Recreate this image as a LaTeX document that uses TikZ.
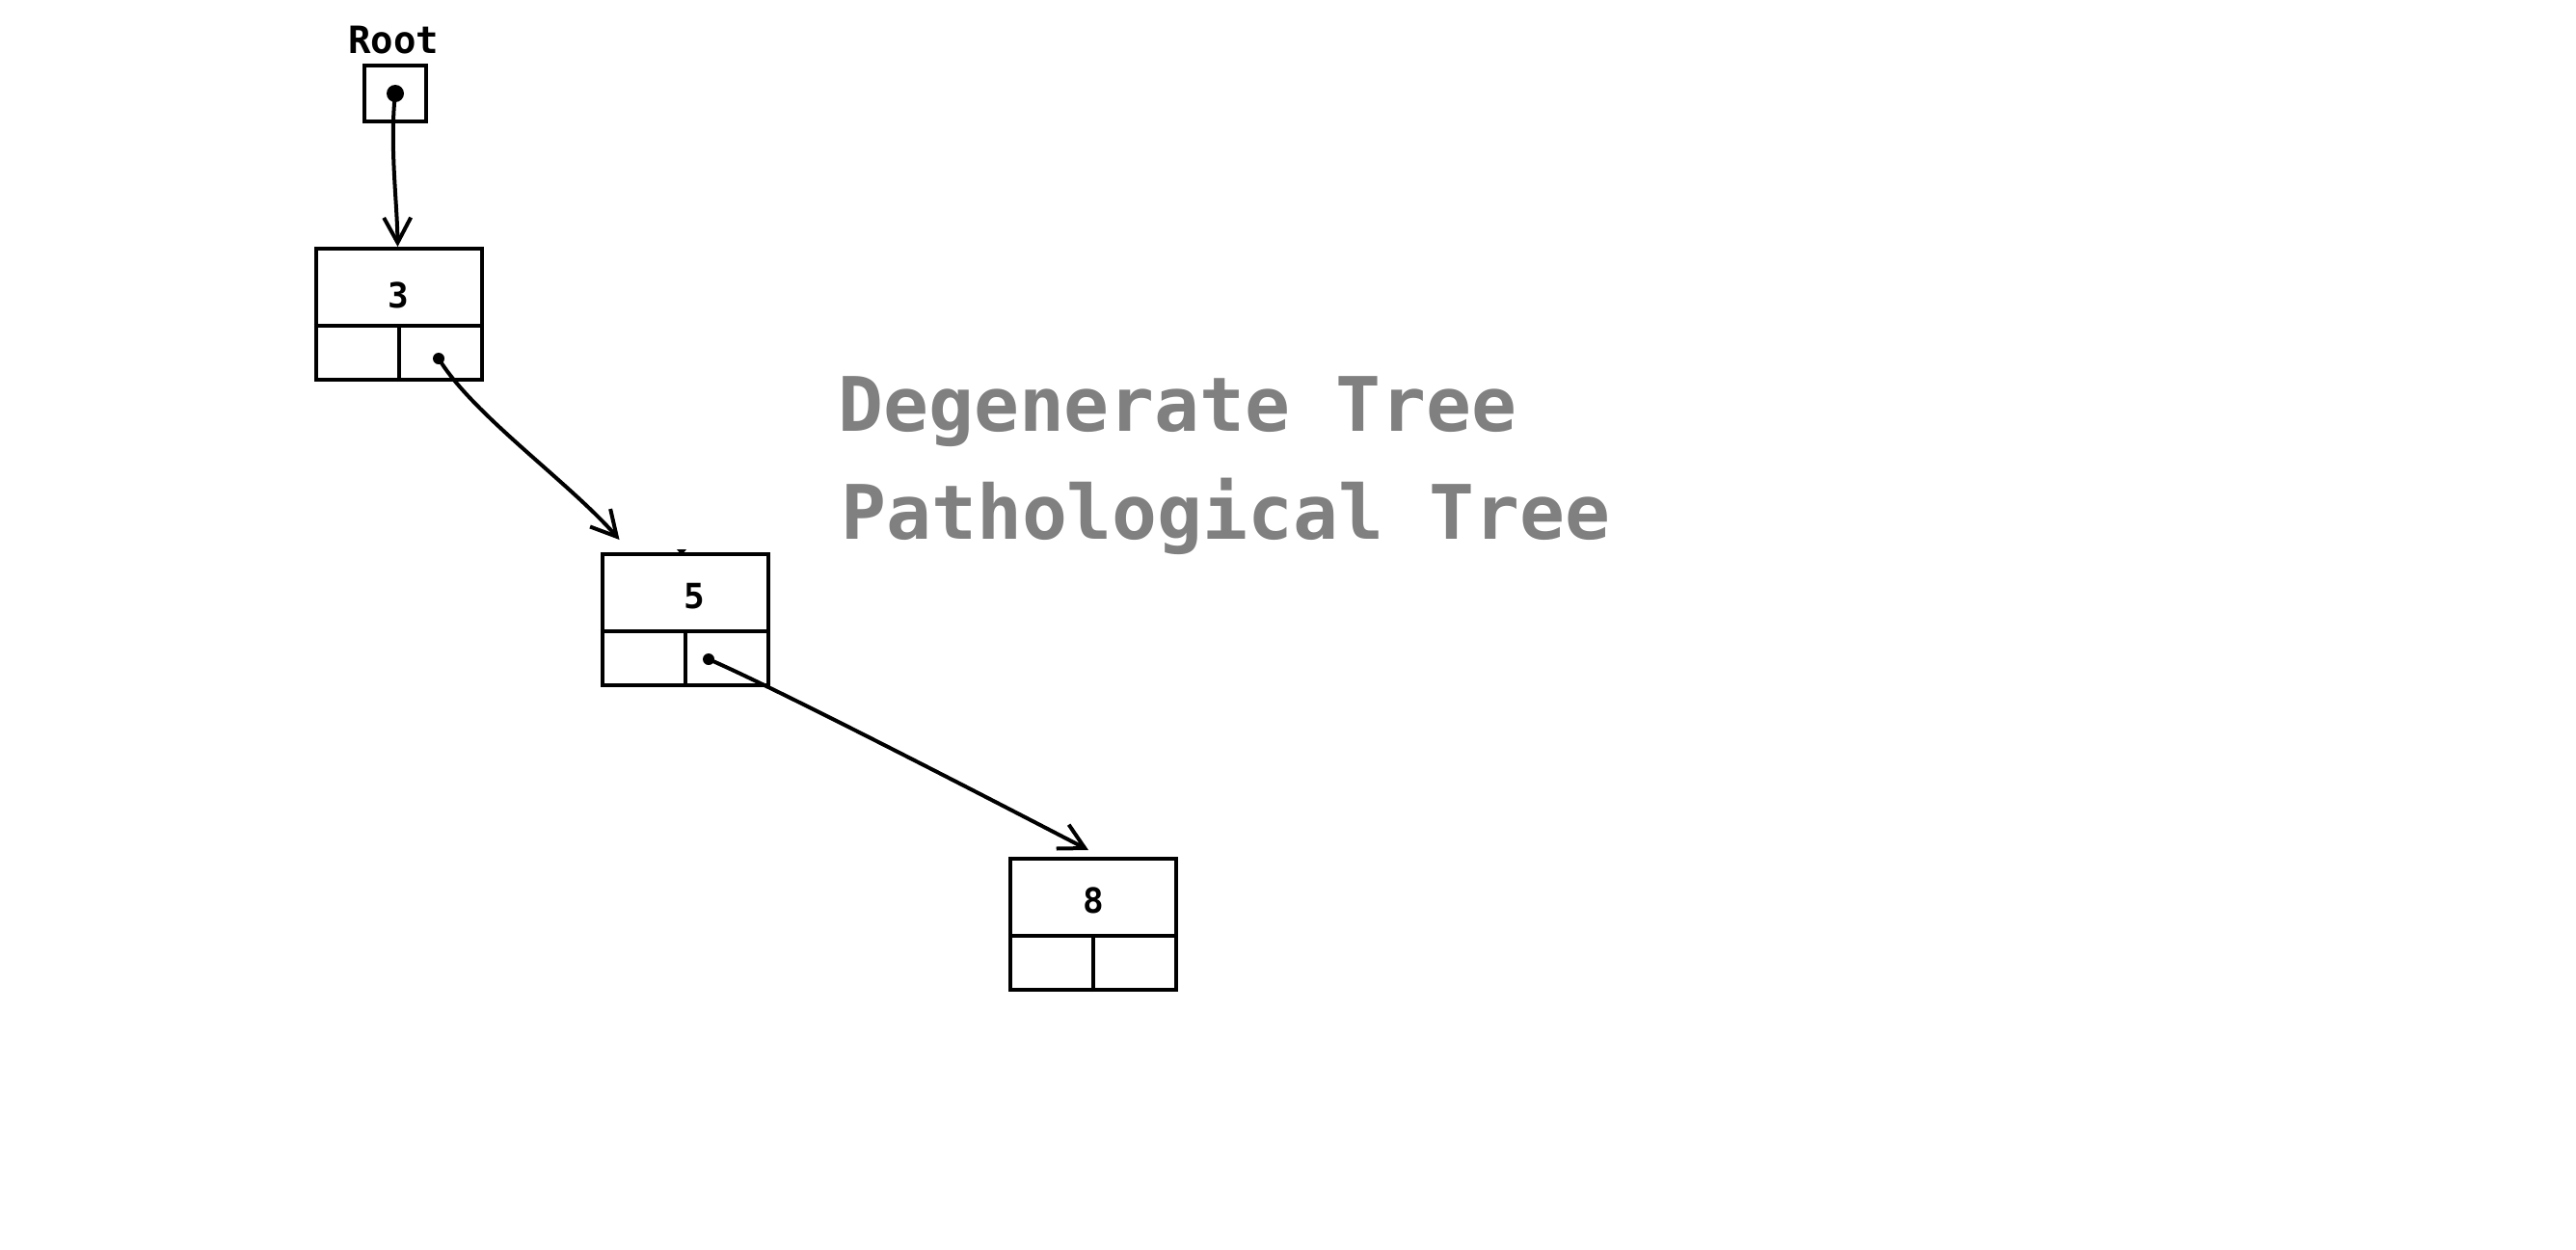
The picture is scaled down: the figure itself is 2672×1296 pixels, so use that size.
\documentclass[tikz,border=0pt]{standalone}
\usepackage{fontspec}
\usetikzlibrary{arrows.meta}
\newfontfamily\monob{DejaVu Sans Mono}[BoldFont={DejaVu Sans Mono Bold}]
\definecolor{txtgray}{RGB}{128,128,128}
\begin{document}
\begin{tikzpicture}[x=1pt,y=-1pt,
  treenode/.style={draw,line width=4pt,minimum width=172pt,minimum height=136pt,inner sep=0pt},
  rootbox/.style={draw,line width=4pt,minimum width=64pt,minimum height=58pt,inner sep=0pt},
  lbl/.style={font=\monob\bfseries\fontsize{36}{42}\selectfont,inner sep=0pt},
  conn/.style={line width=4pt,line cap=round,-{Straight Barb[length=26pt,width=28pt,line width=4pt]}},
  bigtxt/.style={font=\monob\bfseries\fontsize{78}{84}\selectfont,text=txtgray,inner sep=0pt,anchor=base west}]
\useasboundingbox (0,0) rectangle (2672,1296);
% root
\node[lbl,font=\monob\bfseries\fontsize{39}{44}\selectfont] (rootlbl) at (408,42) {Root};
\node[rootbox] (root) at (410,97) {};
\fill (root.center) circle (9);
% tree nodes
\node[treenode] (n3) at (413.5,326) {};
\node[treenode] (n5) at (710.5,643) {};
\node[treenode] (n8) at (1134,959) {};
\foreach \n in {n3,n5,n8}{
  \draw[line width=4pt] ([yshift=-82pt]\n.north west) -- ([yshift=-82pt]\n.north east);
  \draw[line width=4pt] (\n.south) -- ([yshift=-82pt]\n.north);
}
\node[lbl] (v3) at ([yshift=-50pt]n3.north) {3};
\node[lbl] (v5) at ([xshift=10pt,yshift=-46pt]n5.north) {5};
\node[lbl] (v8) at ([yshift=-45pt]n8.north) {8};
% pointer dots
\coordinate (p3) at (455,372);
\coordinate (p5) at (735,684);
\fill (p3) circle (6);
\fill (p5) circle (6);
% small mark on top of node 5
\fill (702,570) -- (712,570) -- (707,576) -- cycle;
% connectors
\draw[conn] (root.center) .. controls (404,150) and (412,210) .. ([xshift=-1pt]n3.north);
\draw[conn] (p3) .. controls (490,430) and (590,500) .. ([xshift=20pt,yshift=13pt]n5.north west);
\draw[conn] (p5) .. controls (800,712) and (1000,815) .. ([xshift=-5pt,yshift=7pt]n8.north);
% captions
\node[bigtxt] (t1) at (869,447) {Degenerate Tree};
\node[bigtxt] (t2) at (872,559) {Pathological Tree};
\end{tikzpicture}
\end{document}
